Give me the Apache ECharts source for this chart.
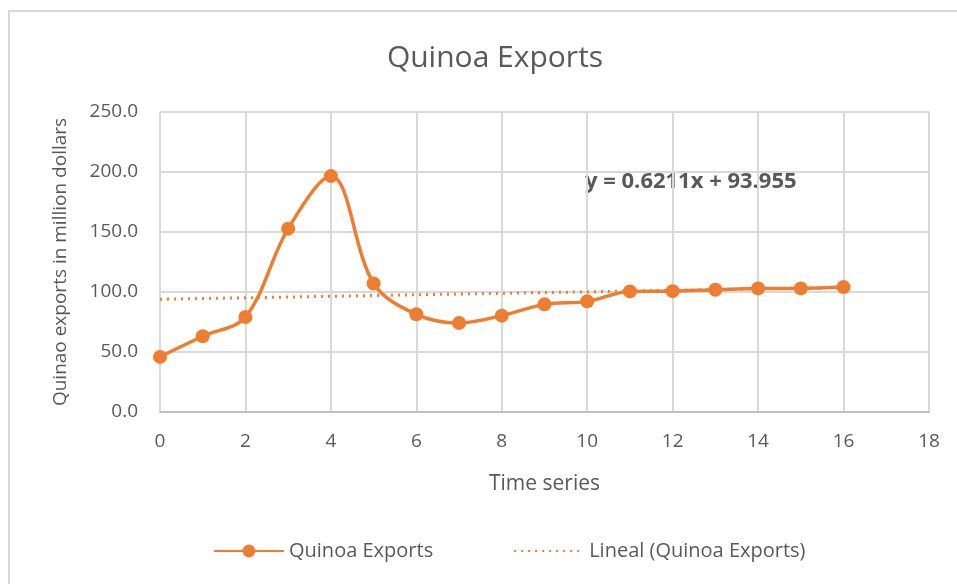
<!DOCTYPE html>
<html>
<head>
<meta charset="utf-8">
<script src="https://cdn.jsdelivr.net/npm/echarts@6/dist/echarts.min.js"></script>
<style>
html, body { margin: 0; padding: 0; background: #fff; }
#chart { width: 957px; height: 584px; }
</style>
</head>
<body>
<div id="chart"></div>
<script>
// 时间序列 (x) 和出口额 (y)
var timeSeries = [0, 1, 2, 3, 4, 5, 6, 7, 8, 9, 10, 11, 12, 13, 14, 15, 16];
var exportValues = [45.9, 63.1, 79.2, 152.8, 196.6, 107.1, 81.4, 74.2, 80.3, 89.7, 92.2, 100.5, 100.7, 101.9, 103.0, 103.0, 104.1];
// 趋势线端点 (y = 0.6211x + 93.955)
var trendX = [0, 16];
var trendY = [93.955, 103.89];
var trendLabel = 'y = 0.6211x + 93.955';

var fontName = '"Open Sans", "Noto Sans", sans-serif';
var textColor = '#595959';
var orange = '#ED7D31';

var exportData = [];
for (var i = 0; i < timeSeries.length; i++) {
	exportData.push([timeSeries[i], exportValues[i]]);
}
var trendData = [];
for (var j = 0; j < trendX.length; j++) {
	trendData.push([trendX[j], trendY[j]]);
}

var option = {
	backgroundColor: '#fff',
	animation: false,
	title: {
		text: 'Quinoa Exports',
		left: 490,
		textAlign: 'center',
		top: 38,
		textStyle: {
			fontFamily: fontName,
			fontSize: 30,
			fontWeight: 'normal',
			color: textColor
		}
	},
	grid: {
		left: 160,
		right: 28,
		top: 112,
		bottom: 172
	},
	xAxis: {
		type: 'value',
		min: 0,
		max: 18,
		interval: 2,
		name: 'Time series',
		nameLocation: 'middle',
		nameGap: 62,
		nameTextStyle: { fontFamily: fontName, fontSize: 21, color: textColor },
		axisLine: { show: true, lineStyle: { color: '#bfbfbf', width: 2 } },
		axisTick: { show: false },
		axisLabel: { fontFamily: fontName, fontSize: 19, color: textColor, margin: 20 },
		splitLine: { show: true, lineStyle: { color: '#d9d9d9', width: 2 } }
	},
	yAxis: {
		type: 'value',
		min: 0,
		max: 250,
		interval: 50,
		name: 'Quinao exports in million dollars',
		nameLocation: 'middle',
		nameGap: 90,
		nameTextStyle: { fontFamily: fontName, fontSize: 19, color: textColor },
		axisLine: { show: false },
		axisTick: { show: false },
		axisLabel: {
			fontFamily: fontName, fontSize: 19, color: textColor, margin: 22,
			formatter: function(v) { return v.toFixed(1); }
		},
		splitLine: { show: true, lineStyle: { color: '#d9d9d9', width: 2 } }
	},
	legend: {
		bottom: 18,
		left: 208,
		itemGap: 80,
		itemWidth: 70,
		itemHeight: 16,
		textStyle: { fontFamily: fontName, fontSize: 20, color: textColor },
		data: [
			{ name: 'Quinoa Exports' },
			{ name: 'Lineal (Quinoa Exports)', itemStyle: { opacity: 0 } }
		]
	},
	graphic: [
		{
			type: 'rect',
			shape: { x: 9, y: 11, width: 960, height: 600 },
			style: { fill: 'none', stroke: '#d9d9d9', lineWidth: 2 },
			silent: true
		},
		{
			type: 'text',
			left: 585,
			top: 171,
			style: {
				text: trendLabel,
				fontFamily: fontName,
				fontSize: 22,
				fontWeight: 'bold',
				fill: textColor
			}
		}
	],
	series: [
		{
			name: 'Lineal (Quinoa Exports)',
			type: 'line',
			data: trendData,
			symbol: 'none',
			lineStyle: { color: orange, width: 3, type: [2, 5] },
			itemStyle: { color: orange },
			z: 1
		},
		{
			name: 'Quinoa Exports',
			type: 'line',
			data: exportData,
			smooth: 0.35,
			symbol: 'circle',
			symbolSize: 14,
			lineStyle: { color: orange, width: 3.5 },
			itemStyle: { color: orange },
			z: 2
		}
	]
};

var chart = echarts.init(document.getElementById('chart'));
chart.setOption(option);
</script>
</body>
</html>
